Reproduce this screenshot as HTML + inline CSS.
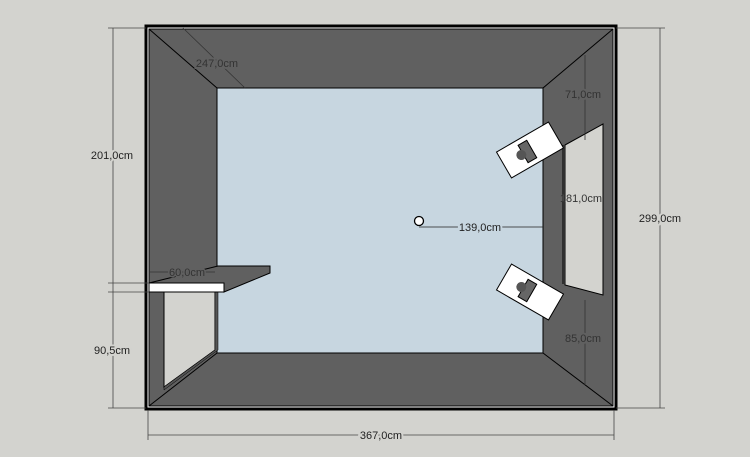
<!DOCTYPE html>
<html><head><style>html,body{margin:0;padding:0;background:#d3d3cf;}svg{display:block}</style></head>
<body>
<svg width="750" height="457" viewBox="0 0 750 457" xmlns="http://www.w3.org/2000/svg" font-family="Liberation Sans, sans-serif" font-size="11" fill="none">
<rect width="750" height="457" fill="#d3d3cf"/>
<!-- outer -->
<rect x="146" y="26" width="470" height="383" fill="#fff" stroke="#000" stroke-width="3"/>
<rect x="149" y="29" width="464" height="377" fill="#606060" stroke="#000" stroke-width="1"/>
<rect x="217" y="88" width="326" height="265" fill="#c7d6e0" stroke="#000" stroke-width="1"/>
<g stroke="#000" stroke-width="1">
<line x1="149" y1="29" x2="217" y2="88"/>
<line x1="613" y1="29" x2="543" y2="88"/>
<line x1="613" y1="406" x2="543" y2="353"/>
<line x1="149" y1="406" x2="217" y2="353"/>
</g>
<!-- door opening -->
<polygon points="164,292 215,292 215,350 164,387" fill="#d3d3cf" stroke="#000"/>
<polygon points="215,292 218,292 218,350 164,390 164,387 215,350" fill="#555" stroke="#000" stroke-width="0.5"/>
<!-- shelf -->
<polygon points="149,283 218,266 270,266 270,273 224,292 224,283" fill="#606060" stroke="#000"/>
<rect x="149" y="283" width="75" height="9" fill="#fff" stroke="#000"/>
<!-- window -->
<polygon points="565,145 603,124 603,295 565,285" fill="#d3d3cf" stroke="#000"/>
<line x1="563" y1="145" x2="563" y2="284" stroke="#000"/>
<!-- speakers -->
<g transform="translate(530,150) rotate(-30)">
<rect x="-30" y="-15" width="60" height="30" fill="#fff" stroke="#000"/>
<rect x="-8" y="-10" width="10" height="20" fill="#666" stroke="#000"/>
<circle cx="-10" cy="0" r="5" fill="#555"/>
</g>
<g transform="translate(530,292) rotate(30)">
<rect x="-30" y="-15" width="60" height="30" fill="#fff" stroke="#000"/>
<rect x="-8" y="-10" width="10" height="20" fill="#666" stroke="#000"/>
<circle cx="-10" cy="0" r="5" fill="#555"/>
</g>
<!-- center -->
<circle cx="419" cy="221" r="4.5" fill="#fff" stroke="#000" stroke-width="1.3"/>
<!-- dimension lines -->
<g stroke="#444" stroke-width="0.8">
<line x1="113" y1="28" x2="113" y2="408"/>
<line x1="108" y1="28" x2="146" y2="28"/>
<line x1="108" y1="283" x2="149" y2="283"/>
<line x1="108" y1="292" x2="149" y2="292"/>
<line x1="108" y1="408" x2="146" y2="408"/>
<line x1="660" y1="28" x2="660" y2="408"/>
<line x1="616" y1="28" x2="665" y2="28"/>
<line x1="616" y1="408" x2="665" y2="408"/>
<line x1="148" y1="435" x2="614" y2="435"/>
<line x1="148" y1="410" x2="148" y2="440"/>
<line x1="614" y1="410" x2="614" y2="440"/>
<line x1="183" y1="28" x2="245" y2="88" stroke="#333"/>
<line x1="585" y1="55" x2="585" y2="140" stroke="#333"/>
<line x1="585" y1="300" x2="585" y2="385" stroke="#333"/>
<line x1="419" y1="227" x2="543" y2="227" stroke="#222"/>
<line x1="150" y1="272" x2="215" y2="272" stroke="#333"/>
</g>
<g fill="#333" font-size="11">
<text x="112" y="159" text-anchor="middle" fill="#222" style="paint-order:stroke" stroke="#d3d3cf" stroke-width="4">201,0cm</text>
<text x="112" y="354" text-anchor="middle" fill="#222" style="paint-order:stroke" stroke="#d3d3cf" stroke-width="4">90,5cm</text>
<text x="660" y="222" text-anchor="middle" fill="#222" style="paint-order:stroke" stroke="#d3d3cf" stroke-width="4">299,0cm</text>
<text x="381" y="439" text-anchor="middle" fill="#222" style="paint-order:stroke" stroke="#d3d3cf" stroke-width="4">367,0cm</text>
<text x="217" y="67" text-anchor="middle" style="paint-order:stroke" stroke="#606060" stroke-width="4">247,0cm</text>
<text x="583" y="98" text-anchor="middle" style="paint-order:stroke" stroke="#606060" stroke-width="4">71,0cm</text>
<text x="583" y="342" text-anchor="middle" style="paint-order:stroke" stroke="#606060" stroke-width="4">85,0cm</text>
<text x="581" y="202" text-anchor="middle">181,0cm</text>
<text x="480" y="231" text-anchor="middle" fill="#222" style="paint-order:stroke" stroke="#c7d6e0" stroke-width="4">139,0cm</text>
<text x="187" y="276" text-anchor="middle" style="paint-order:stroke" stroke="#606060" stroke-width="3">60,0cm</text>
</g>
</svg>
</body></html>
